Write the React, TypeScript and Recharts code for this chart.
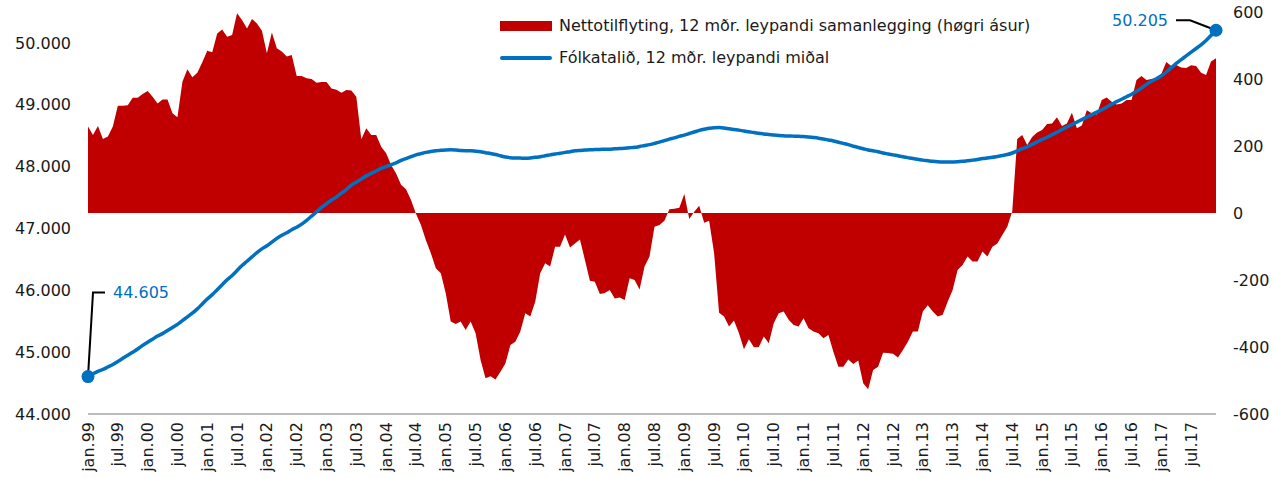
import React from 'react';
import { ComposedChart, Area, Line, XAxis, YAxis } from 'recharts';

const years = ['99','00','01','02','03','04','05','06','07','08','09','10','11','12','13','14','15','16','17'];
const monthNames = ['jan','feb','mar','apr','mai','jun','jul','aug','sep','okt','nov','des'];
const categories: string[] = years.flatMap((y) => monthNames.map((m) => `${m}.${y}`));

// Fólkatalið, 12 mðr. leypandi miðal (left axis)
const population: number[] = [
  44605,44650,44690,44720,44760,44800,44850,44900,44950,45000,45050,45110,
  45160,45210,45260,45300,45350,45400,45450,45510,45570,45630,45700,45780,
  45860,45930,46010,46090,46170,46240,46320,46400,46470,46540,46610,46670,
  46720,46780,46840,46890,46930,46980,47020,47070,47130,47200,47270,47340,
  47400,47460,47510,47570,47630,47700,47750,47800,47850,47890,47930,47970,
  48000,48030,48060,48100,48130,48160,48190,48210,48230,48245,48255,48265,
  48270,48272,48270,48260,48258,48258,48250,48240,48225,48212,48195,48175,
  48155,48145,48140,48138,48136,48140,48150,48160,48175,48190,48205,48215,
  48230,48240,48255,48262,48268,48272,48275,48278,48280,48282,48288,48292,
  48298,48305,48312,48325,48340,48355,48375,48395,48420,48445,48465,48490,
  48510,48535,48560,48585,48605,48620,48630,48632,48625,48612,48600,48590,
  48575,48563,48550,48540,48528,48520,48510,48502,48498,48495,48493,48490,
  48485,48478,48470,48460,48445,48430,48415,48395,48375,48355,48330,48310,
  48290,48270,48255,48240,48220,48205,48190,48175,48160,48145,48130,48118,
  48105,48095,48085,48078,48075,48075,48076,48078,48085,48095,48105,48115,
  48130,48140,48150,48165,48180,48195,48220,48255,48290,48320,48360,48400,
  48440,48475,48515,48555,48600,48640,48680,48720,48760,48800,48840,48880,
  48920,48965,49010,49050,49090,49130,49170,49220,49270,49330,49380,49420,
  49470,49530,49600,49670,49730,49790,49850,49910,49970,50040,50120,50205,
];

// Nettotilflyting, 12 mðr. leypandi samanlegging (right axis)
const netMigration: number[] = [
  258,233,260,221,228,258,320,320,322,344,344,355,
  364,347,327,339,339,298,286,392,429,405,419,450,
  484,480,536,548,526,531,596,576,551,579,566,544,
  477,539,492,482,467,472,409,409,402,400,389,391,
  391,372,368,359,367,366,347,220,253,233,233,198,
  178,143,118,84,71,39,-2,-36,-81,-120,-165,-180,
  -240,-324,-331,-324,-349,-324,-359,-439,-493,-487,-497,-474,
  -449,-394,-384,-354,-299,-309,-265,-180,-150,-160,-101,-101,
  -64,-103,-91,-79,-140,-202,-205,-242,-239,-230,-255,-252,
  -260,-195,-200,-228,-160,-130,-41,-36,-23,11,13,16,
  57,-18,4,22,-29,-23,-120,-298,-309,-339,-321,-359,
  -407,-377,-401,-400,-369,-389,-329,-299,-294,-319,-334,-339,
  -314,-344,-354,-359,-374,-364,-414,-459,-459,-437,-451,-440,
  -508,-526,-469,-459,-417,-418,-420,-431,-409,-384,-354,-354,
  -294,-275,-294,-309,-304,-265,-230,-170,-155,-130,-145,-145,
  -115,-130,-101,-91,-66,-41,5,221,233,203,227,240,
  248,266,267,286,260,267,299,253,261,307,298,294,
  337,345,332,324,327,337,337,397,409,397,400,403,
  415,451,439,442,434,433,441,439,419,412,452,462,
];

const leftTicks = [44000, 45000, 46000, 47000, 48000, 49000, 50000];
const rightTicks = [-600, -400, -200, 0, 200, 400, 600];

const RED = '#C00000';
const BLUE = '#0070C0';
const TEXT = '#1a1a1a';
const FONT = '"DejaVu Sans", Verdana, sans-serif';

const data = categories.map((c, i) => ({ month: c, pop: population[i], net: netMigration[i] }));

const fmt = (v: number) => String(v).replace(/\B(?=(\d{3})+(?!\d))/g, '.');

const XTick = (props: any) => {
  const { x, y, payload } = props;
  return (
    <text
      x={x}
      y={y}
      transform={`rotate(-90 ${x} ${y})`}
      textAnchor="end"
      dominantBaseline="central"
      fontSize={16}
      fontFamily={FONT}
      fill={TEXT}
    >
      {payload.value}
    </text>
  );
};

const EndDot = (props: any) => {
  const { cx, cy, index, value } = props;
  if (cx == null || cy == null) return null;
  const last = population.length - 1;
  if (index === 0) {
    return (
      <g key="d0">
        <polyline points={`${cx},${cy} ${cx + 5},${cy - 84} ${cx + 17},${cy - 84}`} fill="none" stroke="#000" strokeWidth={2} />
        <circle cx={cx} cy={cy} r={6.5} fill={BLUE} />
        <text x={cx + 25} y={cy - 84} dominantBaseline="central" fontSize={16} fontFamily={FONT} fill={BLUE}>{fmt(value)}</text>
      </g>
    );
  }
  if (index === last) {
    return (
      <g key="dl">
        <polyline points={`${cx},${cy} ${cx - 26},${cy - 10} ${cx - 40},${cy - 10}`} fill="none" stroke="#000" strokeWidth={2} />
        <circle cx={cx} cy={cy} r={6.5} fill={BLUE} />
        <text x={cx - 48} y={cy - 10} textAnchor="end" dominantBaseline="central" fontSize={16} fontFamily={FONT} fill={BLUE}>{fmt(value)}</text>
      </g>
    );
  }
  return <g key={`e${index}`} />;
};

export default function App() {
  return (
    <div style={{ position: 'relative', width: 1272, height: 478, fontFamily: FONT, background: '#fff' }}>
      <style>{`body{margin:0}`}</style>
      <ComposedChart width={1272} height={478} data={data} margin={{ top: 12, right: 0, bottom: 0, left: 0 }}>
        <XAxis
          dataKey="month"
          interval={5}
          height={64}
          tick={<XTick />}
          tickLine={false}
          axisLine={{ stroke: '#A6A6A6', strokeWidth: 1.5 }}
        />
        <YAxis
          yAxisId="left"
          orientation="left"
          width={88}
          domain={[44000, 50500]}
          ticks={leftTicks}
          tickFormatter={fmt}
          axisLine={false}
          tickLine={false}
          tickSize={0}
          tickMargin={17}
          tick={{ fontSize: 16, fontFamily: FONT, fill: TEXT }}
        />
        <YAxis
          yAxisId="right"
          orientation="right"
          width={56}
          domain={[-600, 600]}
          ticks={rightTicks}
          axisLine={false}
          tickLine={false}
          tickSize={0}
          tickMargin={17}
          tick={{ fontSize: 16, fontFamily: FONT, fill: TEXT, textAnchor: 'start' }}
        />
        <Area
          yAxisId="right"
          type="linear"
          dataKey="net"
          baseValue={0}
          fill={RED}
          fillOpacity={1}
          stroke="none"
          isAnimationActive={false}
        />
        <Line
          yAxisId="left"
          type="monotone"
          dataKey="pop"
          stroke={BLUE}
          strokeWidth={3.5}
          dot={<EndDot />}
          activeDot={false}
          isAnimationActive={false}
        />
      </ComposedChart>
      <div style={{ position: 'absolute', left: 500, top: 14, fontSize: 16, color: TEXT, lineHeight: '20px' }}>
        <div style={{ display: 'flex', alignItems: 'center', height: 24 }}>
          <span style={{ display: 'inline-block', width: 52, height: 10, background: RED, marginRight: 7 }} />
          <span>Nettotilflyting, 12 mðr. leypandi samanlegging (høgri ásur)</span>
        </div>
        <div style={{ display: 'flex', alignItems: 'center', height: 24, marginTop: 8 }}>
          <span style={{ display: 'inline-block', width: 52, height: 4, background: BLUE, marginRight: 7, borderRadius: 2 }} />
          <span>Fólkatalið, 12 mðr. leypandi miðal</span>
        </div>
      </div>
    </div>
  );
}
